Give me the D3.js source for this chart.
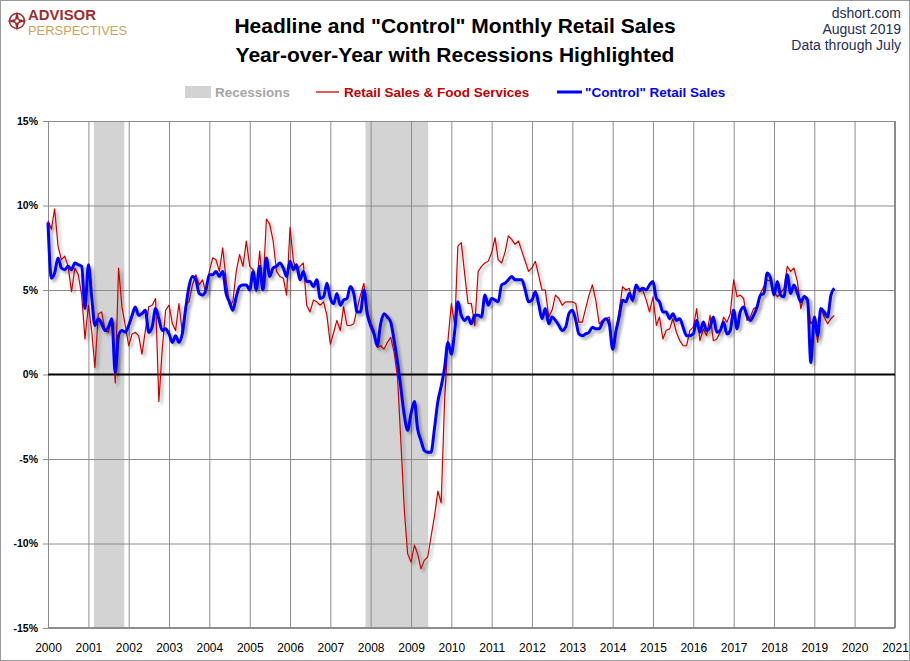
<!DOCTYPE html>
<html><head><meta charset="utf-8">
<script src="https://cdn.jsdelivr.net/npm/d3@7/dist/d3.min.js"></script>
<style>
body{margin:0;background:#fff;}
svg{display:block;}
text{font-family:"Liberation Sans",Arial,sans-serif;}
</style></head><body>
<svg id="chart" width="910" height="661"></svg>
<script>
// ---------------- DATA ----------------
const firstMonth = "2000-01-01"; // monthly series start (Jan 2000), last = Jul 2019
const headline = [
 9.1, 8.6, 9.8, 7.6, 6.8, 7.0, 6.4, 4.9, 6.3, 5.9, 4.7, 2.1,
 4.1, 2.5, 0.4, 3.6, 3.7, 2.6, 2.5, 3.3,-0.5, 6.3, 4.0, 2.9,
 1.7, 2.4, 2.5, 2.3, 1.2, 2.6, 4.0, 4.1, 4.5,-1.6, 1.5, 3.8,
 4.1, 3.0, 2.6, 4.2, 2.5, 4.1, 4.3, 5.3, 5.9, 5.3, 5.6, 4.8,
 6.1, 6.9, 6.8, 6.1, 7.5, 5.6, 4.1, 4.3, 6.1, 7.1, 6.4, 7.9,
 6.4, 6.2, 4.9, 7.3, 5.1, 9.2, 8.9, 7.9, 6.1, 5.8, 5.7, 4.7,
 8.7, 6.7, 6.2, 6.4, 6.6, 4.1, 3.7, 4.4, 4.3, 4.1, 4.3, 3.5,
 1.8, 2.5, 3.2, 2.6, 4.0, 2.9, 2.9, 3.0, 3.9, 4.7, 5.4, 3.8,
 3.1, 2.6, 1.6, 1.7, 1.5, 1.9, 2.2, 1.3,-0.2,-4.0,-8.0,-10.6,
 -11.1,-10.1,-10.6,-11.5,-11.0,-10.8,-9.6,-8.4,-6.9,-7.6,-1.5, 2.0,
 4.2, 2.9, 7.6, 7.8, 6.0, 4.2, 4.2, 2.9, 6.1, 6.4, 6.6, 6.7,
 7.2, 8.1, 6.8, 6.6, 7.2, 8.2, 8.0, 7.7, 7.9, 7.3, 6.7, 6.1,
 6.3, 6.7, 5.9, 5.0, 5.0, 3.4, 3.8, 4.7, 4.5, 4.1, 4.3, 4.3,
 4.3, 4.2, 3.1, 3.1, 3.9, 4.7, 5.3, 4.4, 3.0, 3.2, 3.3, 3.4,
 1.6, 2.7, 3.8, 5.2, 5.0, 5.1, 4.3, 5.2, 4.9, 5.0, 4.4, 3.7,
 4.6, 2.9, 3.4, 2.1, 2.6, 2.7, 3.3, 2.5, 2.0, 1.7, 1.7, 2.6,
 2.8, 3.9, 2.0, 2.7, 2.3, 3.5, 2.0, 2.1, 2.5, 3.4, 3.1, 3.6,
 5.6, 4.6, 4.7, 4.5, 3.2, 3.4, 3.9, 4.0, 4.8, 5.2, 5.6, 5.5,
 4.9, 4.6, 4.8, 5.1, 6.4, 6.1, 6.3, 5.5, 3.9, 4.7, 4.5, 3.0,
 3.3, 1.9, 3.9, 3.4, 3.0, 3.3, 3.5
];
const control = [
 9.0, 5.7, 6.0, 6.9, 6.3, 6.2, 6.4, 6.2, 6.6, 6.5, 6.4, 3.9,
 6.5, 4.5, 2.9, 3.3, 3.0, 2.6, 2.8, 3.3, 0.1, 2.3, 2.6, 2.5,
 2.9, 3.5, 4.0, 3.5, 3.6, 3.8, 2.5, 2.8, 3.9, 3.3, 2.6, 2.7,
 2.4, 1.9, 2.3, 1.9, 2.4, 3.9, 5.2, 5.8, 5.6, 4.8, 4.7, 5.0,
 5.9, 5.9, 6.1, 5.8, 6.1, 4.8, 4.3, 3.8, 4.6, 5.2, 5.3, 5.3,
 5.0, 6.1, 5.0, 6.4, 5.0, 6.9, 5.8, 6.3, 6.4, 6.6, 6.3, 5.8,
 6.7, 6.2, 6.5, 5.6, 6.1, 5.5, 5.5, 5.2, 5.6, 4.5, 4.6, 5.4,
 4.5, 4.2, 4.8, 4.1, 4.4, 4.5, 5.2, 4.8, 3.7, 3.7, 5.0, 3.6,
 2.9, 2.4, 1.7, 3.0, 3.6, 3.4, 3.1, 2.0, 0.7,-0.8,-2.4,-3.3,
 -2.3,-1.6,-3.2,-3.9,-4.5,-4.6,-4.6,-3.2,-1.6,-0.7, 0.4, 1.9,
 1.2, 2.6, 4.3, 3.5, 3.2, 3.4, 3.0, 3.5, 3.5, 3.4, 4.7, 4.1,
 4.5, 4.4, 4.3, 5.3, 5.4, 5.6, 5.8, 5.6, 5.6, 5.6, 5.0, 4.3,
 4.4, 4.9, 4.2, 3.3, 3.9, 3.0, 3.4, 3.2, 2.9, 2.6, 2.8, 3.6,
 3.8, 3.2, 2.4, 2.3, 2.4, 2.5, 2.8, 2.7, 2.7, 3.1, 3.3, 3.0,
 1.5, 2.6, 3.4, 4.4, 4.3, 4.8, 4.4, 5.3, 5.0, 5.1, 5.0, 5.3,
 5.5, 4.5, 4.3, 3.7, 3.7, 3.3, 3.6, 3.2, 3.3, 2.8, 2.3, 2.3,
 2.4, 3.2, 2.5, 3.1, 2.6, 2.8, 3.4, 2.5, 2.6, 3.1, 2.4, 2.6,
 3.8, 2.7, 3.7, 4.0, 3.5, 3.2, 3.5, 4.0, 4.7, 4.8, 6.0, 5.7,
 4.7, 5.5, 4.7, 4.6, 5.9, 4.8, 5.3, 4.8, 4.3, 4.6, 4.4, 0.7,
 3.4, 2.3, 3.9, 3.7, 3.4, 4.7, 5.1
];
const recessions = [["2001-02-20","2001-11-22"],["2007-11-15","2009-06-05"]];
const yTicks = [-15,-10,-5,0,5,10,15];
const xYears = d3.range(2000, 2022);
const titleLines = ["Headline and \"Control\" Monthly Retail Sales","Year-over-Year with Recessions Highlighted"];
const sourceLines = ["dshort.com","August  2019","Data through July"];
const legendLabels = ["Recessions","Retail Sales & Food Services","\"Control\" Retail Sales"];

// ---------------- CHART ----------------
const W = 910, H = 661;
const m = {left:48, right:895, top:121, bottom:628};
const svg = d3.select("#chart");
const parse = d3.timeParse("%Y-%m-%d");
const t0 = parse(firstMonth);
const dates = headline.map((_, i) => d3.timeMonth.offset(t0, i));

const x = d3.scaleTime().domain([new Date(2000,0,1), new Date(2021,0,1)]).range([m.left, m.right]);
const y = d3.scaleLinear().domain([-15,15]).range([m.bottom, m.top]);

const defs = svg.append("defs");
const f = defs.append("filter").attr("id","shadow").attr("x","-5%").attr("y","-5%").attr("width","115%").attr("height","115%");
f.append("feDropShadow").attr("dx",2.5).attr("dy",2.5).attr("stdDeviation",1.5)
 .attr("flood-color","#000").attr("flood-opacity",0.35);

svg.append("rect").attr("x",0.5).attr("y",0.5).attr("width",W-1).attr("height",H-1)
  .attr("fill","#fff").attr("stroke","#9a9a9a");

// recessions
svg.append("g").selectAll("rect").data(recessions).join("rect")
  .attr("x", d => x(parse(d[0])))
  .attr("width", d => x(parse(d[1])) - x(parse(d[0])))
  .attr("y", m.top).attr("height", m.bottom - m.top)
  .attr("fill","#d3d3d3");

// gridlines + axes
const gx = svg.append("g").attr("transform",`translate(0,${m.bottom})`)
  .call(d3.axisBottom(x).tickValues(xYears.map(yr => new Date(yr,0,1)))
    .tickSize(-(m.bottom-m.top)).tickFormat(d3.timeFormat("%Y")));
gx.select(".domain").remove();
gx.selectAll(".tick line").attr("stroke","#8c8c8c").attr("stroke-width",1);
gx.selectAll(".tick text").attr("dy",0).attr("y",24).attr("fill","#000")
  .style("font-size","12px");

const gy = svg.append("g").attr("transform",`translate(${m.left},0)`)
  .call(d3.axisLeft(y).tickValues(yTicks).tickSize(-(m.right-m.left)).tickPadding(10)
    .tickFormat(d => d + "%"));
gy.select(".domain").remove();
gy.selectAll(".tick line").attr("stroke", d => d===0 ? "none" : "#8c8c8c").attr("stroke-width",1);
gy.selectAll(".tick text").attr("fill","#000").style("font-size","10.5px").style("font-weight","bold");
gy.selectAll(".tick").append("line").attr("x1",-5).attr("x2",0).attr("stroke","#8c8c8c");

// plot border
svg.append("rect").attr("x",m.left+0.5).attr("y",m.top+0.5)
  .attr("width",m.right-m.left-1).attr("height",m.bottom-m.top-1)
  .attr("fill","none").attr("stroke","#8c8c8c");

// zero line
svg.append("line").attr("x1",m.left).attr("x2",m.right).attr("y1",y(0)).attr("y2",y(0))
  .attr("stroke","#000").attr("stroke-width",2);

// series
const redLine = d3.line().x((d,i) => x(dates[i])).y(d => y(d));
const blueLine = d3.line().x((d,i) => x(dates[i])).y(d => y(d)).curve(d3.curveMonotoneX);
svg.append("path").datum(headline).attr("d", redLine).attr("fill","none")
  .attr("stroke","#cc0000").attr("stroke-width",1.2).attr("stroke-linejoin","round")
  .attr("filter","url(#shadow)");
svg.append("path").datum(control).attr("d", blueLine).attr("fill","none")
  .attr("stroke","#0000ff").attr("stroke-width",3).attr("stroke-linejoin","round")
  .attr("filter","url(#shadow)");

// title
svg.append("g").selectAll("text").data(titleLines).join("text")
  .attr("x",455).attr("y",(d,i)=>33+i*29).attr("text-anchor","middle")
  .style("font-size","21px").style("font-weight","bold").attr("fill","#000").text(d=>d);

// source text
svg.append("g").selectAll("text").data(sourceLines).join("text")
  .attr("x",901).attr("y",(d,i)=>18+i*16).attr("text-anchor","end")
  .style("font-size","14px").attr("fill","#1f2d5a").text(d=>d);

// logo
const logo = svg.append("g").attr("transform","translate(17,21)");
logo.append("circle").attr("r",7.5).attr("fill","none").attr("stroke","#9b2d30").attr("stroke-width",1.6);
logo.append("path").attr("d","M0,-10 L2,-2 L10,0 L2,2 L0,10 L-2,2 L-10,0 L-2,-2Z").attr("fill","#9b2d30");
logo.append("circle").attr("r",1.8).attr("fill","#fff");
svg.append("text").attr("x",28).attr("y",20).style("font-size","14px").style("font-weight","bold")
  .attr("fill","#9b2d30").attr("textLength",68).attr("lengthAdjust","spacingAndGlyphs").text("ADVISOR");
svg.append("text").attr("x",28).attr("y",35).style("font-size","12px")
  .attr("fill","#c9a45f").attr("textLength",99).attr("lengthAdjust","spacingAndGlyphs").text("PERSPECTIVES");

// legend
const lg = svg.append("g");
lg.append("rect").attr("x",185).attr("y",86).attr("width",26).attr("height",12).attr("fill","#d3d3d3");
lg.append("text").attr("x",215).attr("y",97).style("font-size","13.5px").style("font-weight","bold")
  .attr("fill","#a6a6a6").text(legendLabels[0]);
lg.append("line").attr("x1",316).attr("x2",339).attr("y1",92).attr("y2",92).attr("stroke","#cc0000").attr("stroke-width",1.3);
lg.append("text").attr("x",344).attr("y",97).style("font-size","13.5px").style("font-weight","bold")
  .attr("fill","#c00000").text(legendLabels[1]);
lg.append("line").attr("x1",557).attr("x2",582).attr("y1",92).attr("y2",92).attr("stroke","#0000ff").attr("stroke-width",3);
lg.append("text").attr("x",585).attr("y",97).style("font-size","13.5px").style("font-weight","bold")
  .attr("fill","#0000ff").text(legendLabels[2]);
</script>
</body></html>
